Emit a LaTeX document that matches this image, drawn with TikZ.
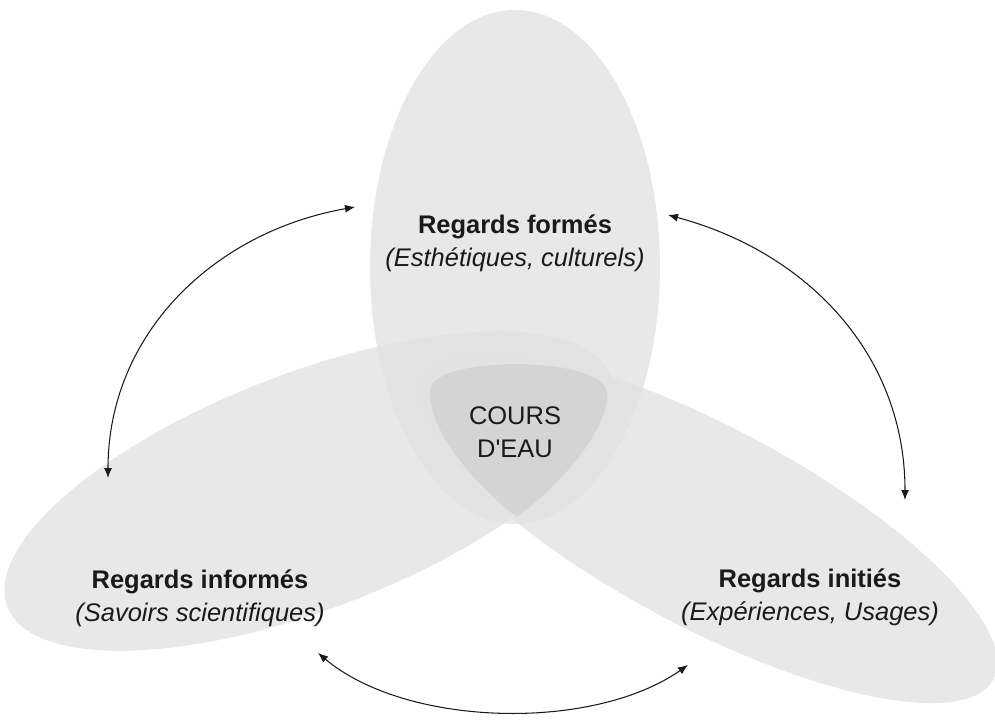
\documentclass[tikz,border=0pt]{standalone}
\usepackage{fontspec}
\setmainfont{Liberation Sans}
\usetikzlibrary{arrows.meta, shapes.geometric}
\definecolor{lensfill}{HTML}{E2E2E2}
\definecolor{corefill}{HTML}{000000}
\definecolor{darkline}{HTML}{1A1A1A}
\tikzset{
  lens/.style={
    ellipse,
    inner sep=0pt,
    fill=lensfill,
    fill opacity=0.8
  },
  label/.style={align=center, text=darkline, font=\fontsize{14.5}{18.7}\selectfont},
  flow/.style={{Latex[length=2mm,width=1.6mm]}-{Latex[length=2mm,width=1.6mm]}, line width=0.6pt, draw=darkline}
}
\begin{document}
\begin{tikzpicture}
\useasboundingbox (0,0) rectangle (19.9,14.4);

% Three views.
\node[lens, minimum width=5.8cm, minimum height=10.28cm] (formes) at (10.3,9.06) {};
\node[lens, minimum width=12.92cm, minimum height=4.72cm, rotate=21] (informes) at (6.18,4.58) {};
\node[lens, minimum width=12.98cm, minimum height=4.0cm, rotate=-28] (inities) at (14.14,3.86) {};

% Common core.
\fill[corefill, fill opacity=0.06] (10.34,4.06) .. controls (9.5,4.7) and (8.55,5.8) .. (8.6,6.6)
  .. controls (8.65,7.3) and (12.1,7.3) .. (12.14,6.54)
  .. controls (12.18,5.8) and (11.2,4.7) .. (10.34,4.06);

% Labels.
\node[label] (formestext) at (10.3,9.54) {\textbf{Regards formés}\\\textit{(Esthétiques, culturels)}};
\node[label] (core) at (10.3,5.76) {COURS\\D\textquotesingle EAU};
\node[label] (informestext) at (4.0,2.44) {\textbf{Regards informés}\\\textit{(Savoirs scientifiques)}};
\node[label] (initiestext) at (16.2,2.46) {\textbf{Regards initiés}\\\textit{(Expériences, Usages)}};

% Arrow ends.
\coordinate (fl) at (7.1,10.26);
\coordinate (fr) at (13.36,10.1);
\coordinate (in) at (2.16,4.84);
\coordinate (ib) at (6.36,1.34);
\coordinate (tn) at (18.1,4.4);
\coordinate (tb) at (13.76,1.1);

% Exchanges.
\draw[flow] (fl) to[out=190, in=90] (in);
\draw[flow] (fr) to[out=-15, in=90] (tn);
\draw[flow] (ib) to[out=-40, in=215, looseness=0.8] (tb);

\end{tikzpicture}
\end{document}
